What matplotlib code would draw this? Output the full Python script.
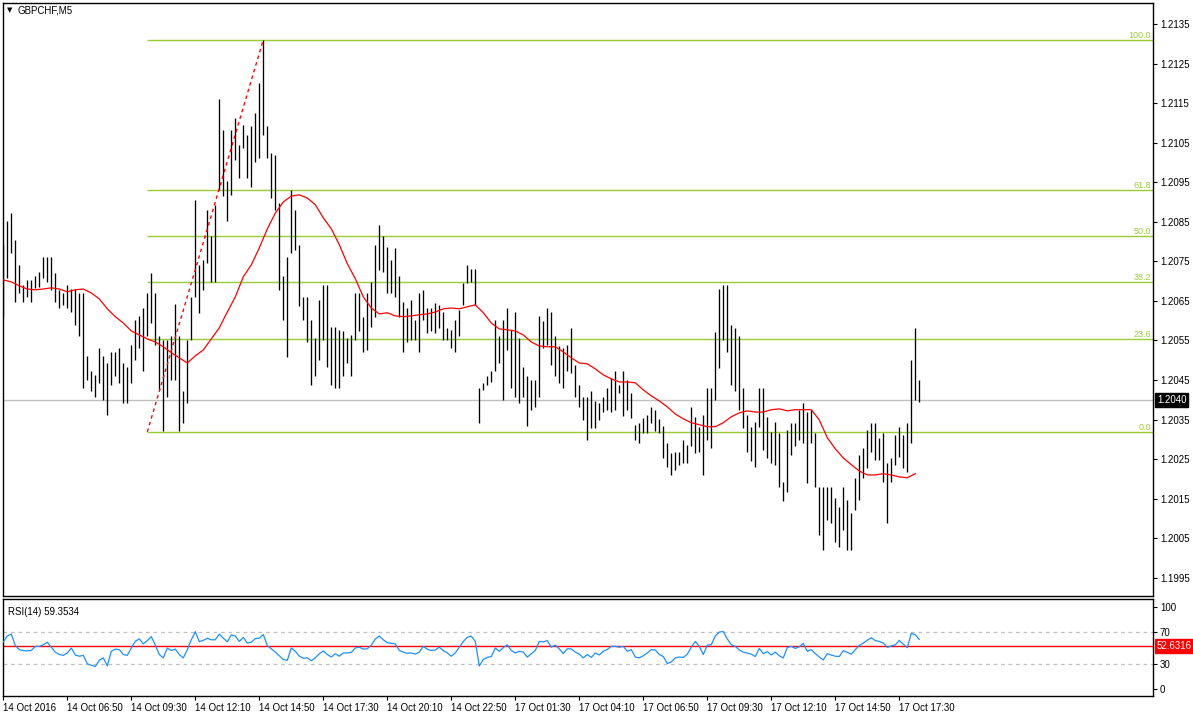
import numpy as np
import matplotlib
matplotlib.use("Agg")
import matplotlib.pyplot as plt
from matplotlib.transforms import blended_transform_factory

plt.rcParams['font.family'] = ['Liberation Sans', 'DejaVu Sans']

# ---------------- data ----------------
symbol = "GBPCHF,M5"
bar_step = 2  # each drawn bar spans two 5-minute bars

bar_high = [
    1.20792, 1.20853, 1.20873, 1.20803, 1.20741, 1.20691, 1.20702, 1.20702, 1.20712, 1.20722,
    1.20761, 1.20761, 1.20761, 1.20720, 1.20678, 1.20671, 1.20691, 1.20680, 1.20680, 1.20670,
    1.20670, 1.20511, 1.20472, 1.20463, 1.20531, 1.20511, 1.20493, 1.20522, 1.20522, 1.20531,
    1.20493, 1.20484, 1.20539, 1.20602, 1.20612, 1.20632, 1.20670, 1.20720, 1.20670, 1.20560,
    1.20552, 1.20552, 1.20562, 1.20643, 1.20560, 1.20421, 1.20552, 1.20661, 1.20904, 1.20741,
    1.20754, 1.20880, 1.20813, 1.20893, 1.21160, 1.21082, 1.20952, 1.21082,
    1.21112, 1.21044, 1.21095, 1.21070, 1.21091, 1.21124, 1.21200, 1.21310, 1.21091, 1.21023,
    1.21019, 1.20897, 1.20712, 1.20762, 1.20931, 1.20880, 1.20792, 1.20661, 1.20661, 1.20602,
    1.20556, 1.20653, 1.20691, 1.20691, 1.20585, 1.20585, 1.20577, 1.20573, 1.20556, 1.20564,
    1.20670, 1.20670, 1.20610, 1.20670, 1.20699, 1.20792, 1.20842, 1.20813, 1.20787, 1.20754,
    1.20783, 1.20712, 1.20648, 1.20632, 1.20653, 1.20602, 1.20670, 1.20678, 1.20632, 1.20632,
    1.20644, 1.20640, 1.20623, 1.20581, 1.20577, 1.20602, 1.20627,
    1.20695, 1.20741, 1.20730, 1.20730, 1.20429, 1.20442, 1.20461, 1.20472, 1.20602, 1.20562,
    1.20602, 1.20632, 1.20577, 1.20623, 1.20556, 1.20484, 1.20459, 1.20450, 1.20450, 1.20611,
    1.20598, 1.20632, 1.20623, 1.20560, 1.20535, 1.20531, 1.20539, 1.20581, 1.20488, 1.20438,
    1.20408, 1.20408, 1.20421, 1.20396, 1.20392, 1.20408, 1.20429, 1.20455, 1.20472, 1.20438,
    1.20472, 1.20450, 1.20418, 1.20337, 1.20341, 1.20354, 1.20362, 1.20383, 1.20375, 1.20351,
    1.20333, 1.20290, 1.20265, 1.20269, 1.20269, 1.20299, 1.20286, 1.20383,
    1.20357, 1.20332, 1.20362, 1.20429, 1.20429, 1.20572, 1.20679, 1.20690, 1.20690, 1.20589,
    1.20581, 1.20560, 1.20429, 1.20362, 1.20332, 1.20345, 1.20429, 1.20429, 1.20357, 1.20319,
    1.20345, 1.20315, 1.20193, 1.20324, 1.20341, 1.20341, 1.20374, 1.20391, 1.20370, 1.20374,
    1.20315, 1.20180, 1.20180, 1.20180, 1.20180, 1.20151, 1.20130, 1.20180, 1.20147, 1.20113,
    1.20202, 1.20261, 1.20277, 1.20324, 1.20341, 1.20341, 1.20303, 1.20315, 1.20239, 1.20252,
    1.20311, 1.20332, 1.20311, 1.20341, 1.20501, 1.20581, 1.20450,
]

bar_low = [
    1.20610, 1.20707, 1.20771, 1.20648, 1.20670, 1.20648, 1.20661, 1.20648, 1.20682, 1.20686,
    1.20707, 1.20699, 1.20678, 1.20648, 1.20632, 1.20640, 1.20632, 1.20623, 1.20590, 1.20560,
    1.20429, 1.20450, 1.20421, 1.20408, 1.20442, 1.20400, 1.20362, 1.20438, 1.20459, 1.20442,
    1.20392, 1.20392, 1.20442, 1.20501, 1.20531, 1.20472, 1.20560, 1.20594, 1.20539, 1.20425,
    1.20320, 1.20408, 1.20450, 1.20450, 1.20320, 1.20341, 1.20392, 1.20552, 1.20661, 1.20619,
    1.20678, 1.20745, 1.20699, 1.20699, 1.20931, 1.20914, 1.20851, 1.20918,
    1.21007, 1.20960, 1.21036, 1.20960, 1.20939, 1.21002, 1.21011, 1.21070, 1.21011, 1.20910,
    1.20880, 1.20678, 1.20602, 1.20509, 1.20771, 1.20779, 1.20636, 1.20602, 1.20547, 1.20438,
    1.20459, 1.20501, 1.20552, 1.20484, 1.20438, 1.20429, 1.20429, 1.20459, 1.20493, 1.20459,
    1.20552, 1.20573, 1.20522, 1.20526, 1.20585, 1.20610, 1.20729, 1.20724, 1.20670, 1.20670,
    1.20661, 1.20610, 1.20522, 1.20547, 1.20552, 1.20552, 1.20522, 1.20602, 1.20570, 1.20573,
    1.20570, 1.20581, 1.20552, 1.20552, 1.20531, 1.20522, 1.20560,
    1.20640, 1.20695, 1.20699, 1.20640, 1.20341, 1.20425, 1.20438, 1.20446, 1.20472, 1.20493,
    1.20400, 1.20526, 1.20429, 1.20408, 1.20392, 1.20408, 1.20333, 1.20375, 1.20383, 1.20408,
    1.20531, 1.20539, 1.20488, 1.20459, 1.20442, 1.20429, 1.20472, 1.20467, 1.20408, 1.20383,
    1.20349, 1.20299, 1.20328, 1.20328, 1.20349, 1.20370, 1.20375, 1.20370, 1.20375, 1.20417,
    1.20358, 1.20375, 1.20354, 1.20299, 1.20290, 1.20316, 1.20317, 1.20341, 1.20320, 1.20316,
    1.20253, 1.20231, 1.20210, 1.20223, 1.20236, 1.20240, 1.20240, 1.20282,
    1.20265, 1.20269, 1.20210, 1.20298, 1.20277, 1.20400, 1.20480, 1.20551, 1.20522, 1.20437,
    1.20421, 1.20374, 1.20328, 1.20269, 1.20244, 1.20231, 1.20332, 1.20273, 1.20252, 1.20239,
    1.20235, 1.20180, 1.20143, 1.20168, 1.20261, 1.20282, 1.20298, 1.20290, 1.20189, 1.20290,
    1.20180, 1.20058, 1.20020, 1.20096, 1.20088, 1.20041, 1.20029, 1.20071, 1.20020, 1.20020,
    1.20122, 1.20147, 1.20202, 1.20227, 1.20269, 1.20248, 1.20248, 1.20193, 1.20088, 1.20193,
    1.20235, 1.20256, 1.20227, 1.20218, 1.20290, 1.20400, 1.20395,
]

ma_step = 4  # moving average read every four 5-minute bars
ma_values = [
    1.20703, 1.20698, 1.20688, 1.20680, 1.20678, 1.20680, 1.20683, 1.20680, 1.20673, 1.20678,
    1.20680, 1.20670, 1.20655, 1.20630, 1.20610, 1.20594, 1.20574, 1.20564, 1.20554, 1.20546,
    1.20534, 1.20519, 1.20506, 1.20493, 1.20511, 1.20526, 1.20554, 1.20582, 1.20622, 1.20660,
    1.20711, 1.20741, 1.20784, 1.20832, 1.20872, 1.20900, 1.20915, 1.20918, 1.20910, 1.20893,
    1.20860, 1.20832, 1.20792, 1.20744, 1.20706, 1.20660, 1.20632, 1.20617, 1.20620, 1.20612,
    1.20610, 1.20612, 1.20615, 1.20617, 1.20622, 1.20630, 1.20632, 1.20630, 1.20635, 1.20640,
    1.20620, 1.20594, 1.20579, 1.20577, 1.20574, 1.20564, 1.20546, 1.20536, 1.20534, 1.20534,
    1.20521, 1.20506, 1.20493, 1.20491, 1.20478, 1.20463, 1.20453, 1.20445, 1.20445, 1.20443,
    1.20425, 1.20410, 1.20397, 1.20382, 1.20364, 1.20352, 1.20342, 1.20337, 1.20332, 1.20332,
    1.20342, 1.20357, 1.20367, 1.20372, 1.20369, 1.20369, 1.20375, 1.20377, 1.20372, 1.20375,
    1.20375, 1.20375, 1.20349, 1.20304, 1.20276, 1.20253, 1.20236, 1.20220, 1.20210, 1.20210,
    1.20213, 1.20210, 1.20205, 1.20203, 1.20213,
]

rsi_values = [
    57.5, 64.6, 67, 53, 48, 46.8, 46.5, 47, 52, 52,
    53.9, 57, 51, 45, 42, 41, 44, 50, 41.4, 40,
    41, 30.7, 29, 27.5, 35, 38, 28.2, 46, 48.6, 48,
    42, 41, 50, 58.2, 61.1, 55, 59, 63.9, 53.5, 42,
    38, 50, 47, 48.6, 42, 37.9, 48, 60, 70, 57.8,
    59.3, 62, 60, 60, 67, 62, 57.5, 66, 64.6, 58,
    62.9, 56, 57, 61.5, 62, 66.4, 53, 49, 45, 40.5,
    36, 35, 50, 46, 40, 37.5, 38, 34.5, 38, 43,
    46.5, 42, 39, 43, 40, 44, 44, 44.5, 50, 51,
    48.6, 49, 53.5, 61, 64.6, 60, 56.5, 55.7, 55, 47,
    45, 43.5, 44, 42.5, 45, 52, 48.5, 47, 47.5, 51.1,
    46.8, 44, 40, 44, 51, 58, 63, 64.5, 58, 28,
    36, 38.5, 39.6, 50, 46, 50.4, 53.9, 47, 44, 46,
    45, 38.9, 43, 47, 58, 57.5, 59, 51, 53.5, 49,
    43.2, 49, 49, 45, 42.5, 37.9, 42, 38.5, 44, 41.5,
    46, 48.3, 52, 52, 51, 52, 46, 48, 39, 38,
    40.5, 44, 48, 47.5, 42, 39.6, 31, 33, 38, 39,
    38.5, 42.5, 51, 58, 52, 42, 53.5, 54, 64.6, 69.5,
    70, 61, 54, 52, 47.5, 45, 43.8, 42.5, 39.6, 49.5,
    43.2, 45.5, 41.5, 45, 40.5, 37.9, 50.6, 52, 49.5, 51.5,
    55.7, 46, 48, 43.2, 39, 35.5, 43, 41.4, 40, 39.6,
    46.8, 44.7, 42.5, 48, 53, 56, 59.5, 62.5, 59, 58,
    56, 50.8, 52.5, 53.9, 59.3, 54.6, 50.4, 68, 66, 60.4,
]

rsi_title = "RSI(14) 59.3534"
rsi_hline = 52.6316
rsi_levels = [30, 70]
rsi_ticks = [0, 30, 70, 100]

current_price = 1.2040
fib_low = 1.20319
fib_high = 1.21310
fib_anchor_bars = [72, 130]
fib_ratios = [0.0, 23.6, 38.2, 50.0, 61.8, 100.0]

price_ticks = [1.2135, 1.2125, 1.2115, 1.2105, 1.2095, 1.2085, 1.2075, 1.2065,
               1.2055, 1.2045, 1.2035, 1.2025, 1.2015, 1.2005, 1.1995]

time_labels = ["14 Oct 2016", "14 Oct 06:50", "14 Oct 09:30", "14 Oct 12:10",
               "14 Oct 14:50", "14 Oct 17:30", "14 Oct 20:10", "14 Oct 22:50",
               "17 Oct 01:30", "17 Oct 04:10", "17 Oct 06:50", "17 Oct 09:30",
               "17 Oct 12:10", "17 Oct 14:50", "17 Oct 17:30"]
label_every = 32  # 5-minute bars between time labels

# ---------------- layout ----------------
W, H = 1193, 717
fig = plt.figure(figsize=(W / 100, H / 100), dpi=100)
fig.patch.set_facecolor('white')


def frac(x0, y0, x1, y1):
    return [x0 / W, 1 - y1 / H, (x1 - x0) / W, (y1 - y0) / H]


ax = fig.add_axes(frac(3, 3, 1153, 596))
axr = fig.add_axes(frac(3, 599, 1153, 696))

XMIN, XMAX = -0.15, 574.85
fib_col = '#9acd32'
fs = 7

# ---------------- price panel ----------------
xb = np.arange(len(bar_high)) * bar_step
ax.vlines(xb, bar_low, bar_high, colors='black', linewidth=0.95,
          antialiased=True, zorder=3)

xm = np.arange(len(ma_values)) * ma_step
ax.plot(xm, ma_values, color='red', lw=0.9, zorder=4)

rng = fib_high - fib_low
for r in fib_ratios:
    lvl = fib_low + r / 100.0 * rng
    ax.hlines(lvl, fib_anchor_bars[0], XMAX, color=fib_col, lw=1.0, zorder=2)
    ax.text(0.9985, lvl, f"{r:.1f}", transform=blended_transform_factory(ax.transAxes, ax.transData),
            ha='right', va='bottom', color=fib_col, fontsize=6.5, zorder=5)
ax.plot(fib_anchor_bars, [fib_low, fib_high], color='red', lw=1.0,
        ls=(0, (2.5, 2.5)), zorder=5)

ax.axhline(current_price, color='#c0c0c0', lw=1.0, zorder=1)

ax.set_xlim(XMIN, XMAX)
ax.set_ylim(1.19904, 1.21403)
ax.set_xticks([])
ax.yaxis.tick_right()
ax.set_yticks(price_ticks)
ax.set_yticklabels([f"{t:.4f}" for t in price_ticks])
ax.tick_params(axis='y', length=3, width=0.8, pad=2, labelsize=fs, colors='black')
for s in ax.spines.values():
    s.set_color('black')
    s.set_linewidth(1.0)

ax.text(1.0035, current_price, f"{current_price:.4f}",
        transform=blended_transform_factory(ax.transAxes, ax.transData),
        ha='left', va='center', color='white', fontsize=fs, zorder=6,
        bbox=dict(boxstyle='square,pad=0.2', fc='black', ec='black'), clip_on=False)

fig.text(7 / W, 1 - 10 / H, "\u25BC", fontsize=5, va='center', ha='left',
         family=['DejaVu Sans'])
fig.text(18 / W, 1 - 10.5 / H, symbol, fontsize=fs, va='center', ha='left')

# ---------------- RSI panel ----------------
xr = np.arange(len(rsi_values)) * bar_step
for lv in rsi_levels:
    axr.axhline(lv, color='#c0c0c0', lw=0.9, ls=(0, (3, 3)), zorder=1)
axr.axhline(rsi_hline, color='red', lw=1.0, zorder=2)
axr.plot(xr, rsi_values, color='#1e90ff', lw=0.9, zorder=3)

axr.set_xlim(XMIN, XMAX)
axr.set_ylim(-8.54, 109.76)
axr.yaxis.tick_right()
axr.set_yticks(rsi_ticks)
axr.set_yticklabels([str(t) for t in rsi_ticks])
axr.tick_params(axis='y', length=3, width=0.8, pad=2, labelsize=fs)
axr.set_xticks(np.arange(len(time_labels)) * label_every)
axr.set_xticklabels(time_labels)
for lab in axr.get_xticklabels():
    lab.set_horizontalalignment('left')
axr.tick_params(axis='x', length=3, width=0.8, pad=2, labelsize=fs)
for s in axr.spines.values():
    s.set_color('black')
    s.set_linewidth(1.0)

axr.text(0.004, 0.87, rsi_title, transform=axr.transAxes, ha='left', va='center',
         fontsize=fs, color='black')
axr.text(1.0035, rsi_hline, f"{rsi_hline:.4f}",
         transform=blended_transform_factory(axr.transAxes, axr.transData),
         ha='left', va='center', color='white', fontsize=fs, zorder=6,
         bbox=dict(boxstyle='square,pad=0.2', fc='red', ec='red'), clip_on=False)

fig.savefig("out.png", dpi=100, facecolor='white')
